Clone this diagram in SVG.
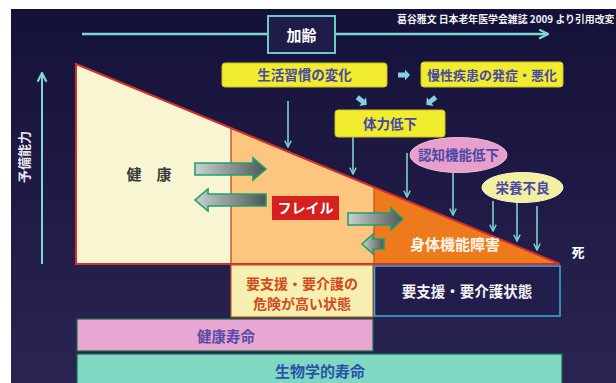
<svg xmlns="http://www.w3.org/2000/svg" width="616" height="383" viewBox="0 0 616 383">
<defs>
<linearGradient id="bg" x1="0" y1="0" x2="0" y2="1">
<stop offset="0" stop-color="#141139"/>
<stop offset="1" stop-color="#2a2452"/>
</linearGradient>
<linearGradient id="ag" x1="0" y1="0" x2="1" y2="0">
<stop offset="0" stop-color="#c9d2d2"/>
<stop offset="1" stop-color="#4e5656"/>
</linearGradient>
<marker id="ah" viewBox="0 0 10 10" refX="9" refY="5" markerWidth="8" markerHeight="8" markerUnits="userSpaceOnUse" orient="auto">
<path d="M1,1 L9,5 L1,9" fill="none" stroke="#7fd2d0" stroke-width="1.8"/>
</marker>
<marker id="ahbig" viewBox="0 0 10 10" refX="9" refY="5" markerWidth="11" markerHeight="11" markerUnits="userSpaceOnUse" orient="auto">
<path d="M1,1 L9,5 L1,9" fill="none" stroke="#7fd8d0" stroke-width="2"/>
</marker>
<path id="blk" d="M-6,-2.5 L1,-2.5 L1,-5.5 L6,0 L1,5.5 L1,2.5 L-6,2.5 Z"/>
</defs>
<style>
text{font-family:"Noto Sans CJK JP","Noto Sans CJK SC",sans-serif;font-weight:bold;text-anchor:middle}
.yb{fill:#f1ec2e;stroke:#c8c020;stroke-width:1}
.yt{fill:#4a48a6;font-size:13.5px}
.ta{stroke:#7fd2d0;stroke-width:1.6;fill:none;marker-end:url(#ah)}
.ga{fill:url(#ag);stroke:#1fa070;stroke-width:1.6}
.bl{fill:#86cde6}
</style>
<rect x="0" y="0" width="616" height="383" fill="#ffffff"/>
<rect x="11" y="9" width="605" height="374" fill="url(#bg)"/>

<text x="397" y="23" style="font-size:9.9px;text-anchor:start;fill:#f2f2f2">葛谷雅文 日本老年医学会雑誌 2009 より引用改変</text>

<g id="connectors">
<line x1="82" y1="34" x2="548" y2="34" stroke="#7fd8d0" stroke-width="2.5" marker-end="url(#ahbig)"/>
<line x1="42" y1="264" x2="42" y2="73" stroke="#7fd8d0" stroke-width="2" marker-end="url(#ahbig)"/>
<line class="ta" x1="288" y1="101" x2="288" y2="147"/>
<line class="ta" x1="353" y1="137" x2="353" y2="174"/>
<line class="ta" x1="407" y1="153" x2="407" y2="197"/>
<line class="ta" x1="453" y1="173" x2="453" y2="215"/>
<line class="ta" x1="493" y1="201" x2="493" y2="231"/>
<line class="ta" x1="517" y1="202" x2="517" y2="241"/>
<line class="ta" x1="537" y1="206" x2="537" y2="250"/>
<use href="#blk" class="bl" transform="translate(404,75)"/>
<use href="#blk" class="bl" transform="translate(362,101) rotate(38)"/>
<use href="#blk" class="bl" transform="translate(431,101) rotate(142)"/>
</g>

<g id="yobinouryoku">
<text transform="translate(29,157) rotate(-90)" style="font-size:13px;fill:#e8e8f0">予備能力</text>
</g>

<g id="kanrei">
<rect x="268" y="16" width="67" height="37" fill="#1f1c4a" stroke="#6ccac2" stroke-width="2"/>
<text x="301.5" y="41" style="font-size:15px;fill:#ffffff">加齢</text>
</g>

<g id="triangle">
<polygon points="76,64 231,128 231,264 76,264" fill="#f8f5d2"/>
<polygon points="231,128 374,187 374,264 231,264" fill="#fcc67e"/>
<polygon points="374,187 560,264 374,264" fill="#ee7a1e"/>
<line x1="231" y1="128" x2="231" y2="264" stroke="#b84a2c" stroke-width="1.3"/>
<line x1="374" y1="187" x2="374" y2="264" stroke="#c8502a" stroke-width="1.3"/>
<polygon points="76,64 560,264 76,264" fill="none" stroke="#d2302a" stroke-width="2"/>
</g>

<g id="kenkou">
<text x="149" y="180" style="font-size:15px;fill:#3a3a3a">健　康</text>
</g>

<g id="arrows">
<path class="ga" d="M195,163 L253,163 L253,158 L266,169 L253,180 L253,175 L195,175 Z"/>
<path class="ga" d="M266,194 L208,194 L208,189 L195,200 L208,211 L208,206 L266,206 Z"/>
<path class="ga" d="M348,213 L391,213 L391,208 L403,219 L391,230 L391,225 L348,225 Z"/>
<path class="ga" d="M384,239 L373,239 L373,234 L362,244 L373,254 L373,249 L384,249 Z"/>
</g>

<g id="frail">
<rect x="272" y="196" width="67" height="24" fill="#d62020"/>
<text x="305.5" y="213" style="font-size:14px;fill:#ffffff">フレイル</text>
</g>

<g id="shintai">
<text x="455" y="250" style="font-size:15px;fill:#fff4e8">身体機能障害</text>
</g>

<g id="shi">
<text x="578" y="257" style="font-size:13px;fill:#ffffff">死</text>
</g>

<g id="seikatsu">
<rect class="yb" x="222" y="63" width="165" height="24" rx="3"/>
<text class="yt" x="304.5" y="80">生活習慣の変化</text>
</g>

<g id="mansei">
<rect class="yb" x="421" y="62" width="142" height="25" rx="3"/>
<text class="yt" x="492" y="79.5" style="font-size:13px">慢性疾患の発症・悪化</text>
</g>

<g id="tairyoku">
<rect class="yb" x="335" y="110" width="110" height="27" rx="3"/>
<text class="yt" x="390" y="128.5">体力低下</text>
</g>

<g id="ninchi">
<ellipse cx="458.5" cy="155" rx="48.5" ry="17.5" fill="#e89fcc" stroke="#f0c0dc" stroke-width="1"/>
<text class="yt" x="458.5" y="160">認知機能低下</text>
</g>

<g id="eiyou">
<ellipse cx="522.5" cy="187.5" rx="40.5" ry="15" fill="#f4f0a2" stroke="#fbf8d0" stroke-width="1"/>
<text class="yt" x="522.5" y="192.5">栄養不良</text>
</g>

<g id="risk">
<rect x="231" y="265" width="142" height="52" fill="#f6efb2" stroke="#c85a2a" stroke-width="1.2"/>
<text x="302" y="289" style="font-size:14px;fill:#d24a1c">要支援・要介護の</text>
<text x="302" y="309" style="font-size:14px;fill:#d24a1c">危険が高い状態</text>
</g>

<g id="kaigo">
<rect x="374.5" y="266" width="185.5" height="50" fill="#221d4c" stroke="#3ba8d2" stroke-width="1.6"/>
<text x="467" y="297" style="font-size:14.5px;fill:#f2f2f2">要支援・要介護状態</text>
</g>

<g id="kenkoujumyou">
<rect x="77" y="319" width="296" height="32" fill="#e8a6d2" stroke="#1c6a48" stroke-width="1.2"/>
<text x="226" y="342" style="font-size:14.5px;fill:#5a4aa6">健康寿命</text>
</g>

<g id="seibutsu">
<rect x="77" y="354" width="485" height="34" fill="#7ed8c2" stroke="#1c6a48" stroke-width="1.2"/>
<text x="320" y="377" style="font-size:15px;fill:#2a52a8">生物学的寿命</text>
</g>
</svg>
